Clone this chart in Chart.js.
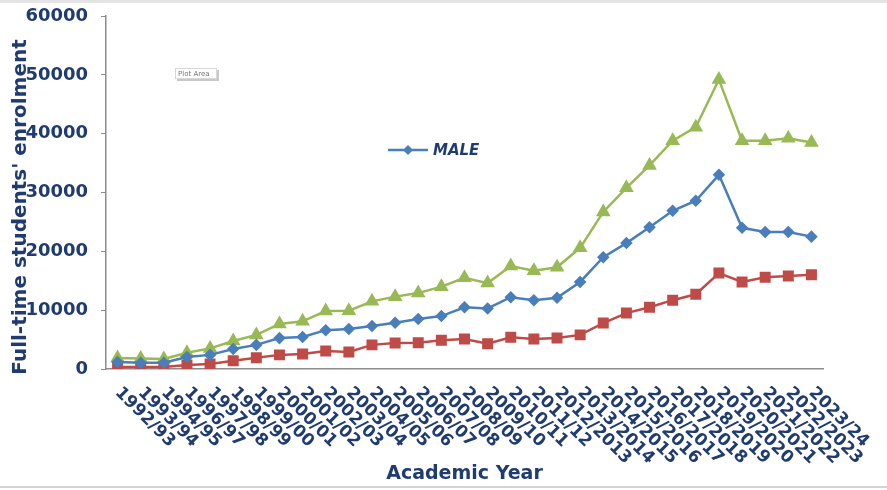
<!DOCTYPE html>
<html>
<head>
<meta charset="utf-8">
<script src="https://cdn.jsdelivr.net/npm/chart.js@4.4.1/dist/chart.umd.min.js"></script>
<style>
  html, body { margin: 0; padding: 0; background: #fff; }
  canvas { display: block; }
</style>
</head>
<body>
<canvas id="myChart" width="887" height="490"></canvas>
<script>
const academicYears = [
  "1992/93", "1993/94", "1994/95", "1996/97", "1997/98", "1998/99", "1999/00",
  "2000/01", "2001/02", "2002/03", "2003/04", "2004/05", "2005/06", "2006/07",
  "2007/08", "2008/09", "2009/10", "2010/11", "2011/12", "2012/2013", "2013/2014",
  "2014/2015", "2015/2016", "2016/2017", "2017/2018", "2018/2019", "2019/2020",
  "2020/2021", "2021/2022", "2022/2023", "2023/24"
];

const maleValues = [
  1200, 1050, 1050, 2050, 2400, 3400, 4100, 5250, 5450, 6600, 6800, 7300, 7850,
  8500, 9000, 10500, 10300, 12200, 11700, 12100, 14800, 19000, 21400, 24100,
  26900, 28600, 33000, 24000, 23300, 23300, 22500
];

const femaleValues = [
  350, 350, 350, 700, 850, 1400, 1900, 2400, 2550, 3050, 2900, 4100, 4400, 4450,
  4900, 5100, 4300, 5400, 5100, 5250, 5800, 7800, 9500, 10500, 11700, 12700,
  16300, 14800, 15600, 15800, 16000
];

const totalValues = [
  1850, 1800, 1700, 2750, 3500, 4750, 5800, 7650, 8100, 9850, 9900, 11500, 12300,
  12900, 14000, 15500, 14600, 17500, 16700, 17300, 20600, 26700, 30800, 34600,
  38800, 41100, 49200, 38800, 38800, 39200, 38500
];

const yTicks = [0, 10000, 20000, 30000, 40000, 50000, 60000];

const navy = "#1F3B70";
const blue = "#4A7EBB";
const red = "#BE4B48";
const green = "#98B954";
const axisGrey = "#8C8C8C";

// text and decorations that chart.js can't place the way excel did
const overlayPlugin = {
  id: "overlay",
  beforeDraw(chart) {
    const ctx = chart.ctx;
    ctx.save();
    // light frame of the original screenshot
    ctx.fillStyle = "#e4e4e4";
    ctx.fillRect(0, 0, chart.width, 3);
    ctx.fillStyle = "#d4d4d4";
    ctx.fillRect(0, 486, chart.width, 2);
    ctx.restore();
  },
  afterDraw(chart) {
    const ctx = chart.ctx;
    const area = chart.chartArea;
    const xScale = chart.scales.x;

    // rotated category labels, reading downward to the right
    ctx.save();
    ctx.fillStyle = navy;
    ctx.font = "bold 17px 'DejaVu Sans'";
    ctx.textAlign = "left";
    ctx.textBaseline = "middle";
    chart.data.labels.forEach((label, i) => {
      const x = xScale.getPixelForTick(i);
      ctx.save();
      ctx.translate(x, area.bottom + 21);
      ctx.rotate(Math.PI / 4);
      ctx.fillText(label, 0, 0);
      ctx.restore();
    });
    ctx.restore();

    // axis titles
    ctx.save();
    ctx.fillStyle = navy;
    ctx.font = "bold 19px 'DejaVu Sans'";
    ctx.textAlign = "center";
    ctx.textBaseline = "middle";
    ctx.fillText("Academic Year", (area.left + area.right) / 2, 474);
    ctx.font = "bold 20px 'DejaVu Sans'";
    ctx.translate(21, 207);
    ctx.rotate(-Math.PI / 2);
    ctx.fillText("Full-time students' enrolment", 0, 0);
    ctx.restore();

    // legend: only the male series is shown
    const ds = chart.data.datasets[0];
    ctx.save();
    ctx.strokeStyle = ds.borderColor;
    ctx.lineWidth = 2.5;
    ctx.beginPath();
    ctx.moveTo(388, 150);
    ctx.lineTo(428, 150);
    ctx.stroke();
    ctx.fillStyle = ds.pointBackgroundColor;
    ctx.beginPath();
    ctx.moveTo(408, 145);
    ctx.lineTo(413, 150);
    ctx.lineTo(408, 155);
    ctx.lineTo(403, 150);
    ctx.closePath();
    ctx.fill();
    ctx.fillStyle = navy;
    ctx.font = "italic bold 15px 'DejaVu Sans'";
    ctx.textAlign = "left";
    ctx.textBaseline = "middle";
    ctx.fillText(ds.label, 433, 151);
    ctx.restore();

    // leftover "Plot Area" hover tip
    ctx.save();
    ctx.fillStyle = "#c8c8c8";
    ctx.fillRect(177, 70, 42, 11);
    ctx.fillStyle = "#fff";
    ctx.fillRect(175, 68, 42, 11);
    ctx.strokeStyle = "#d8d8d8";
    ctx.lineWidth = 1;
    ctx.strokeRect(175.5, 68.5, 41, 10);
    ctx.fillStyle = "#777";
    ctx.font = "7px 'DejaVu Sans'";
    ctx.textBaseline = "middle";
    ctx.fillText("Plot Area", 178, 74);
    ctx.restore();
  }
};

const ctx = document.getElementById("myChart").getContext("2d");
new Chart(ctx, {
  type: "line",
  data: {
    labels: academicYears,
    datasets: [
      {
        label: "MALE",
        data: maleValues,
        borderColor: blue,
        backgroundColor: blue,
        pointBackgroundColor: blue,
        pointBorderColor: blue,
        pointStyle: "rectRot",
        pointRadius: 4.5,
        borderWidth: 2.5,
        tension: 0
      },
      {
        label: "FEMALE",
        data: femaleValues,
        borderColor: red,
        backgroundColor: red,
        pointBackgroundColor: red,
        pointBorderColor: red,
        pointStyle: "rect",
        pointRadius: 6,
        borderWidth: 2.5,
        tension: 0
      },
      {
        label: "TOTAL",
        data: totalValues,
        borderColor: green,
        backgroundColor: green,
        pointBackgroundColor: green,
        pointBorderColor: green,
        pointStyle: "triangle",
        pointRadius: 6,
        borderWidth: 2.5,
        tension: 0
      }
    ]
  },
  options: {
    responsive: false,
    animation: false,
    layout: {
      padding: { top: 16, right: 64, left: 0, bottom: 0 }
    },
    plugins: {
      legend: { display: false },
      tooltip: { enabled: false },
      title: { display: false }
    },
    scales: {
      x: {
        offset: true,
        grid: { display: false },
        border: { display: true, color: axisGrey, width: 1.5 },
        ticks: { display: false },
        afterFit(scale) {
          scale.height = 121;
        }
      },
      y: {
        min: yTicks[0],
        max: yTicks[yTicks.length - 1],
        afterBuildTicks(scale) {
          scale.ticks = yTicks.map((v) => ({ value: v }));
        },
        grid: {
          drawOnChartArea: false,
          drawTicks: true,
          tickLength: 5,
          color: axisGrey
        },
        border: { display: true, color: axisGrey, width: 1.5 },
        ticks: {
          color: navy,
          padding: 13,
          font: { family: "'DejaVu Sans'", size: 18, weight: "bold" },
          callback: (value) => String(value)
        },
        afterFit(scale) {
          scale.width = 106;
          scale.paddingTop = 0;
          scale.paddingBottom = 0;
        }
      }
    }
  },
  plugins: [overlayPlugin]
});
</script>
</body>
</html>
